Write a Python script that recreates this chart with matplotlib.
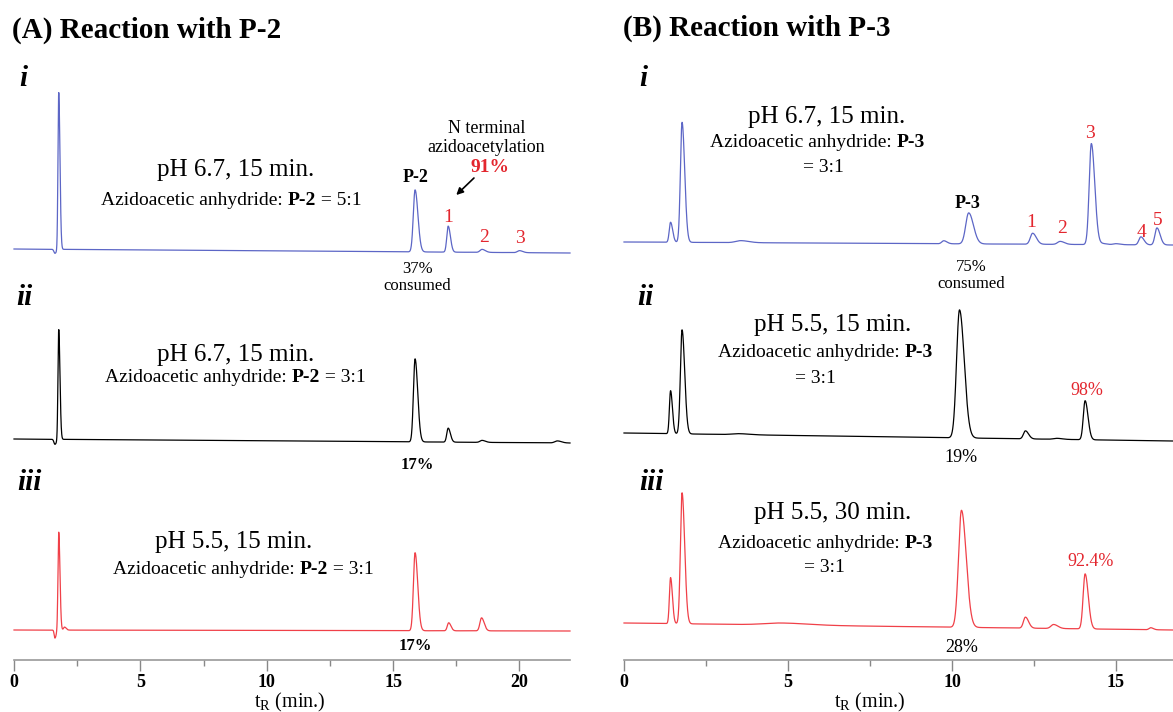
import numpy as np
import matplotlib
matplotlib.use('Agg')
import matplotlib.pyplot as plt

plt.rcParams['font.family'] = 'Liberation Serif'
plt.rcParams['mathtext.fontset'] = 'custom'
plt.rcParams['mathtext.rm'] = 'Liberation Serif'
plt.rcParams['mathtext.it'] = 'Liberation Serif:italic'
plt.rcParams['mathtext.bf'] = 'Liberation Serif:bold'

# ---- (A) P-2 chromatograms: retention time (min), peak height, peak width (sigma)
a1_t = [1.62, 1.77, 15.87, 17.18, 18.52, 20.0]
a1_h = [-4, 157, 62, 26, 3, 2]
a1_w = [0.04, 0.03, 0.07, 0.055, 0.08, 0.08]
a1_base = [411, 407]

a2_t = [1.62, 1.77, 15.87, 17.18, 18.52, 21.5]
a2_h = [-5, 110, 83, 14, 2, 2]
a2_w = [0.04, 0.03, 0.065, 0.055, 0.08, 0.1]
a2_base = [221, 217]

a3_t = [1.62, 1.77, 2.0, 15.87, 17.2, 18.5]
a3_h = [-8, 98, 3, 78, 8, 13]
a3_w = [0.03, 0.03, 0.04, 0.065, 0.055, 0.065]
a3_base = [30, 29]

# ---- (B) P-3 chromatograms
b1_t = [1.42, 1.77, 3.56, 9.75, 10.51, 12.46, 13.3, 14.25, 14.6, 15.0, 15.76, 16.25]
b1_h = [20, 120, 2, 3, 31, 11, 3, 101, 1, 1, 8, 17]
b1_w = [0.04, 0.05, 0.15, 0.06, 0.09, 0.07, 0.08, 0.065, 0.08, 0.08, 0.06, 0.06]
b1_base = [418, 415]

b2_t = [1.42, 1.77, 3.5, 10.23, 12.24, 13.2, 14.06]
b2_h = [43, 104, 1, 128, 8, 1, 39]
b2_w = [0.035, 0.05, 0.2, 0.09, 0.06, 0.1, 0.055]
b2_base = [227, 219]

b3_t = [1.42, 1.77, 4.8, 10.29, 12.24, 13.1, 14.06, 16.06]
b3_h = [46, 131, 2, 117, 11, 4, 55, 2]
b3_w = [0.035, 0.05, 0.5, 0.09, 0.06, 0.08, 0.06, 0.05]
b3_base = [37, 30]

a_xmax = 22.0
b_xmax = 16.74

blue = '#5c66c6'
red = '#f04048'
lab_red = '#e3262e'


def trace(ax, xmax, t, h, w, base, color):
    x = np.linspace(0, xmax, 6000)
    y = base[0] + (base[1] - base[0]) * x / xmax
    for ti, hi, wi in zip(t, h, w):
        # slightly tailing peaks: wider on the late side
        s = np.where(x < ti, wi, wi * 1.6)
        y = y + hi * np.exp(-0.5 * ((x - ti) / s) ** 2)
    ax.plot(x, y, color=color, lw=0.9, clip_on=False)


def mixed(ax, x, y, parts, size):
    # pieces of one line with their own weights, laid side by side
    t = ax.text(x, y, parts[0][0], fontweight=parts[0][1], fontsize=size,
                ha='left', va='center')
    for s, wt in parts[1:]:
        t = ax.annotate(s, xycoords=t, xy=(1, 0), va='bottom',
                        fontweight=wt, fontsize=size)
    return t


W, H = 1173, 712
fig = plt.figure(figsize=(W / 100, H / 100), dpi=100)

axA = fig.add_axes([14 / W, (H - 660) / H, 556 / W, 600 / H])
axB = fig.add_axes([624 / W, (H - 660) / H, (W - 624) / W, 600 / H])

for ax, xmax in ((axA, a_xmax), (axB, b_xmax)):
    ax.set_xlim(0, xmax)
    ax.set_ylim(0, 600)
    for s in ('left', 'right', 'top'):
        ax.spines[s].set_visible(False)
    ax.spines['bottom'].set_color('#999999')
    ax.spines['bottom'].set_linewidth(1.2)
    ax.set_yticks([])
    ax.set_xticks(np.arange(0, xmax + 0.01, 5))
    ax.set_xticks(np.arange(2.5, xmax, 5), minor=True)
    ax.tick_params(axis='x', which='major', length=8, width=1, color='#888888',
                   pad=2, labelsize=13)
    ax.tick_params(axis='x', which='minor', length=4, width=1, color='#888888')
    for lbl in ax.get_xticklabels():
        lbl.set_fontweight('bold')
    ax.patch.set_alpha(0)

trace(axA, a_xmax, a1_t, a1_h, a1_w, a1_base, blue)
trace(axA, a_xmax, a2_t, a2_h, a2_w, a2_base, 'black')
trace(axA, a_xmax, a3_t, a3_h, a3_w, a3_base, red)

trace(axB, b_xmax, b1_t, b1_h, b1_w, b1_base, blue)
trace(axB, b_xmax, b2_t, b2_h, b2_w, b2_base, 'black')
trace(axB, b_xmax, b3_t, b3_h, b3_w, b3_base, red)

# titles
fig.text(12 / W, 1 - 30 / H, '(A) Reaction with P-2', fontsize=21,
         fontweight='bold', va='center', ha='left')
fig.text(623 / W, 1 - 28 / H, '(B) Reaction with P-3', fontsize=21,
         fontweight='bold', va='center', ha='left')

# x labels
axA.text(10.9, -42, r't$_\mathrm{R}$ (min.)', fontsize=14.5, ha='center', va='center')
axB.text(7.5, -42, r't$_\mathrm{R}$ (min.)', fontsize=14.5, ha='center', va='center')

# roman numerals
for ax, x0 in ((axA, 0.35), (axB, 0.6)):
    ax.text(x0, 660 - 78, 'i', fontsize=21, style='italic', fontweight='bold',
            ha='center', va='center', clip_on=False)
    ax.text(x0 + 0.05, 660 - 297, 'ii', fontsize=21, style='italic',
            fontweight='bold', ha='center', va='center', clip_on=False)
    ax.text(x0 + 0.25, 660 - 482, 'iii', fontsize=21, style='italic',
            fontweight='bold', ha='center', va='center', clip_on=False)

# ---- panel A annotations
axA.text(8.75, 660 - 170, 'pH 6.7, 15 min.', fontsize=18, ha='center', va='center')
mixed(axA, 3.44, 660 - 200, [('Azidoacetic anhydride: ', 'normal'), ('P-2', 'bold'),
                             (' = 5:1', 'normal')], 14)
axA.text(15.87, 660 - 177, 'P-2', fontsize=13, fontweight='bold', ha='center', va='center')
axA.text(17.18, 660 - 217, '1', fontsize=14, color=lab_red, ha='center', va='center')
axA.text(18.6, 660 - 237, '2', fontsize=14, color=lab_red, ha='center', va='center')
axA.text(20.03, 660 - 238, '3', fontsize=14, color=lab_red, ha='center', va='center')
axA.text(18.7, 660 - 128, 'N terminal', fontsize=13, ha='center', va='center')
axA.text(18.7, 660 - 147, 'azidoacetylation', fontsize=13, ha='center', va='center')
axA.text(18.84, 660 - 167, '91%', fontsize=14, fontweight='bold', color=lab_red,
         ha='center', va='center')
axA.annotate('', xy=(17.5, 660 - 195), xytext=(18.2, 660 - 178),
             arrowprops=dict(arrowstyle='-|>', color='black', lw=1.2,
                             mutation_scale=10, shrinkA=0, shrinkB=0))
axA.text(15.95, 660 - 269, '37%', fontsize=12, ha='center', va='center')
axA.text(15.95, 660 - 286, 'consumed', fontsize=12, ha='center', va='center')

axA.text(8.78, 660 - 355, 'pH 6.7, 15 min.', fontsize=18, ha='center', va='center')
mixed(axA, 3.62, 660 - 377, [('Azidoacetic anhydride: ', 'normal'), ('P-2', 'bold'),
                             (' = 3:1', 'normal')], 14)
axA.text(15.95, 660 - 465, '17%', fontsize=12, fontweight='bold', ha='center', va='center')

axA.text(8.68, 660 - 542, 'pH 5.5, 15 min.', fontsize=18, ha='center', va='center')
mixed(axA, 3.92, 660 - 569, [('Azidoacetic anhydride: ', 'normal'), ('P-2', 'bold'),
                             (' = 3:1', 'normal')], 14)
axA.text(15.87, 660 - 646, '17%', fontsize=12, fontweight='bold', ha='center', va='center')

# ---- panel B annotations
axB.text(6.18, 660 - 117, 'pH 6.7, 15 min.', fontsize=18, ha='center', va='center')
mixed(axB, 2.61, 660 - 142, [('Azidoacetic anhydride: ', 'normal'), ('P-3', 'bold')], 14)
axB.text(6.07, 660 - 168, '= 3:1', fontsize=14, ha='center', va='center')
axB.text(10.48, 660 - 203, 'P-3', fontsize=13, fontweight='bold', ha='center', va='center')
axB.text(12.43, 660 - 222, '1', fontsize=14, color=lab_red, ha='center', va='center')
axB.text(13.35, 660 - 228, '2', fontsize=14, color=lab_red, ha='center', va='center')
axB.text(14.2, 660 - 133, '3', fontsize=14, color=lab_red, ha='center', va='center')
axB.text(15.78, 660 - 232, '4', fontsize=14, color=lab_red, ha='center', va='center')
axB.text(16.28, 660 - 220, '5', fontsize=14, color=lab_red, ha='center', va='center')
axB.text(10.6, 660 - 267, '75%', fontsize=12, ha='center', va='center')
axB.text(10.6, 660 - 284, 'consumed', fontsize=12, ha='center', va='center')

axB.text(6.35, 660 - 325, 'pH 5.5, 15 min.', fontsize=18, ha='center', va='center')
mixed(axB, 2.86, 660 - 352, [('Azidoacetic anhydride: ', 'normal'), ('P-3', 'bold')], 14)
axB.text(5.85, 660 - 378, '= 3:1', fontsize=14, ha='center', va='center')
axB.text(14.1, 660 - 390, '98%', fontsize=13, color=lab_red, ha='center', va='center')
axB.text(10.26, 660 - 457, '19%', fontsize=13, ha='center', va='center')

axB.text(6.37, 660 - 513, 'pH 5.5, 30 min.', fontsize=18, ha='center', va='center')
mixed(axB, 2.86, 660 - 543, [('Azidoacetic anhydride: ', 'normal'), ('P-3', 'bold')], 14)
axB.text(6.1, 660 - 568, '= 3:1', fontsize=14, ha='center', va='center')
axB.text(14.22, 660 - 562, '92.4%', fontsize=13, color=lab_red, ha='center', va='center')
axB.text(10.3, 660 - 648, '28%', fontsize=13, ha='center', va='center')

fig.savefig('out.png', dpi=100)
